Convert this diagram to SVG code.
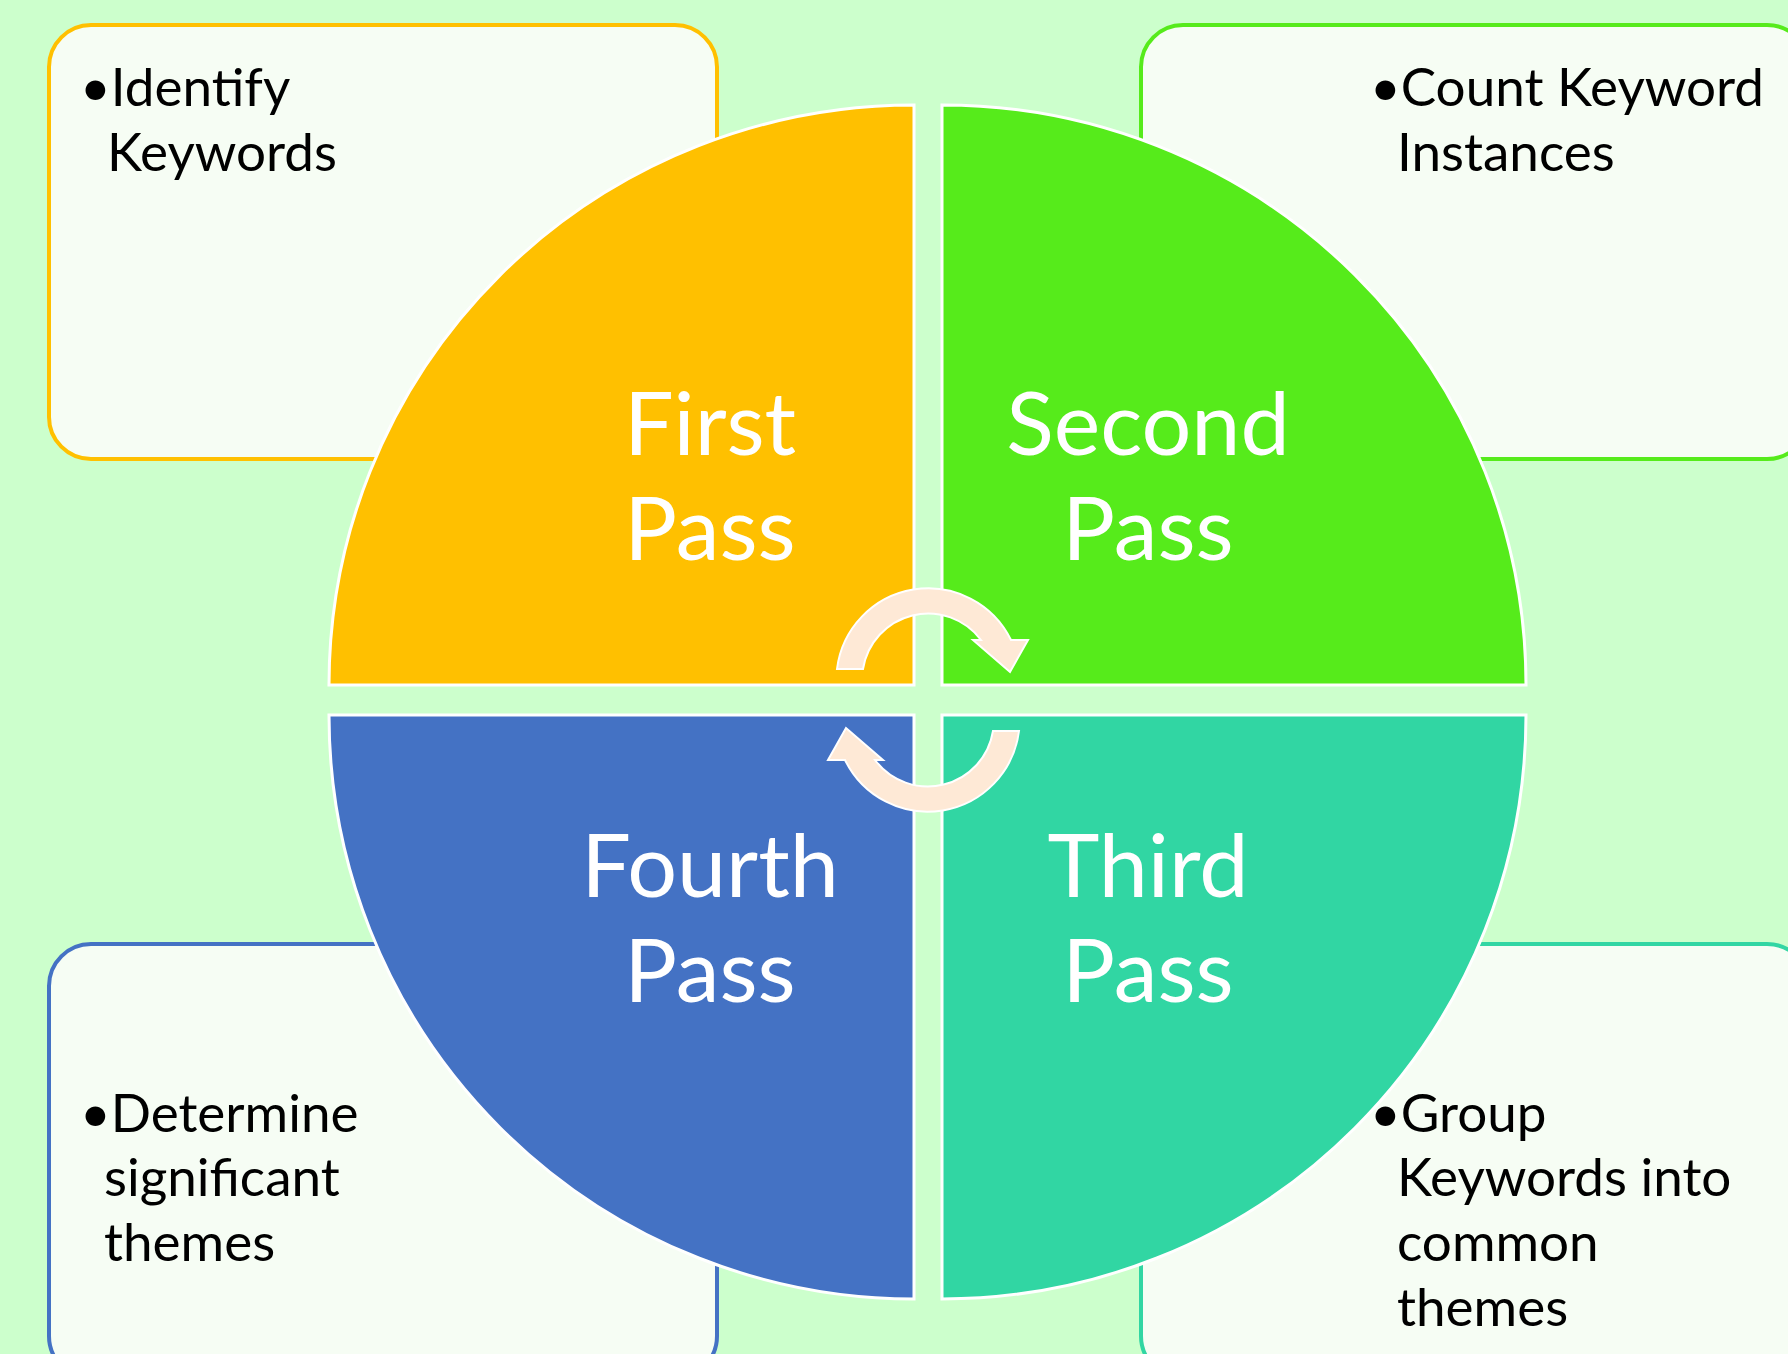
<svg xmlns="http://www.w3.org/2000/svg" width="1788" height="1354" viewBox="0 0 1788 1354">
<style>
.box{fill:#F6FDF4;stroke-width:4}
.quad{stroke:#FFFFFF;stroke-width:3}
.body{font-family:Lato,"Liberation Sans",sans-serif;font-size:53px;fill:#000000}
.title{font-family:Lato,"Liberation Sans",sans-serif;font-size:88px;fill:#FFFFFF;text-anchor:middle}
.arrow{fill:#FEE9D6;stroke:#FFFFFF;stroke-width:2;stroke-linejoin:miter}
</style>
<defs>
<path id="arr" d="M 837 669 A 92 92 0 0 1 1011 640 L 1028 640 L 1010 672 L 973 640 L 981 640 A 66 66 0 0 0 863 669 Z"/>
</defs>
<rect x="0" y="0" width="1788" height="1354" fill="#CCFFCC"/>

<g id="box-identify">
<rect class="box" x="49" y="25" width="668" height="434" rx="42" stroke="#FFC000"/>
<text class="body" x="80" y="106">•Identify</text>
<text class="body" x="107" y="171">Keywords</text>
</g>
<g id="box-count">
<rect class="box" x="1141" y="25" width="668" height="434" rx="42" stroke="#56EB1B"/>
<text class="body" x="1370" y="106">•Count Keyword</text>
<text class="body" x="1397" y="171">Instances</text>
</g>
<g id="box-determine">
<rect class="box" x="49" y="944" width="668" height="434" rx="42" stroke="#4472C4"/>
<text class="body" x="80" y="1132">•Determine</text>
<text class="body" x="104" y="1196">significant</text>
<text class="body" x="104" y="1261">themes</text>
</g>
<g id="box-group">
<rect class="box" x="1141" y="944" width="668" height="434" rx="42" stroke="#31D6A3"/>
<text class="body" x="1370" y="1132">•Group</text>
<text class="body" x="1397" y="1196">Keywords into</text>
<text class="body" x="1397" y="1261">common</text>
<text class="body" x="1397" y="1326">themes</text>
</g>

<g id="first-pass">
<path class="quad" fill="#FFC000" d="M 914 685 L 329 685 A 585 580 0 0 1 914 105 Z"/>
<text class="title" x="710" y="455">First</text>
<text class="title" x="710" y="560">Pass</text>
</g>
<g id="second-pass">
<path class="quad" fill="#56EB1B" d="M 942 685 L 942 105 A 584 580 0 0 1 1526 685 Z"/>
<text class="title" x="1148" y="455">Second</text>
<text class="title" x="1148" y="560">Pass</text>
</g>
<g id="third-pass">
<path class="quad" fill="#31D6A3" d="M 942 715 L 1526 715 A 584 584 0 0 1 942 1299 Z"/>
<text class="title" x="1148" y="897">Third</text>
<text class="title" x="1148" y="1002">Pass</text>
</g>
<g id="fourth-pass">
<path class="quad" fill="#4472C4" d="M 914 715 L 914 1299 A 585 584 0 0 1 329 715 Z"/>
<text class="title" x="710" y="897">Fourth</text>
<text class="title" x="710" y="1002">Pass</text>
</g>

<g id="connectors">
<use href="#arr" class="arrow"/>
<use href="#arr" class="arrow" transform="rotate(180 928 700)"/>
</g>
</svg>
